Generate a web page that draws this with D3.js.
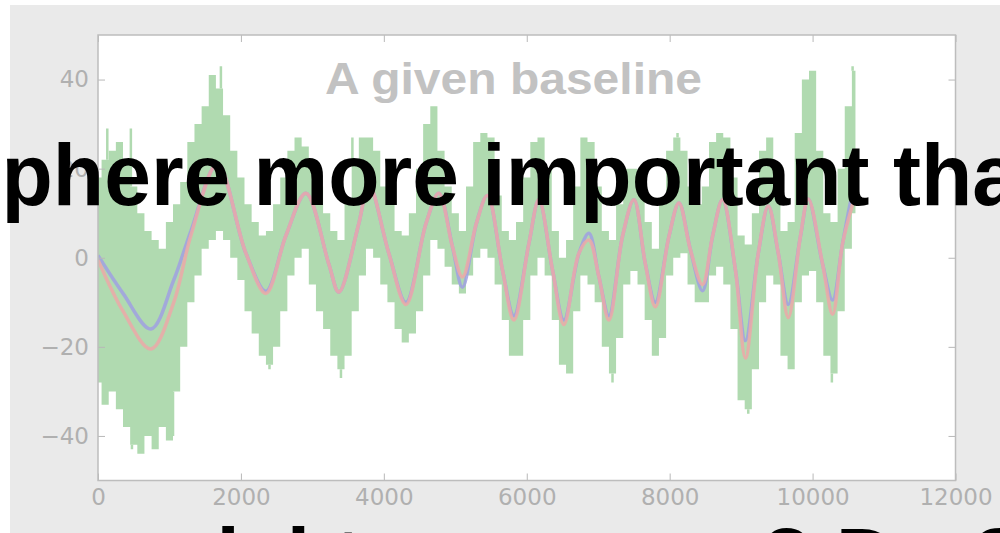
<!DOCTYPE html>
<html>
<head>
<meta charset="utf-8">
<script src="https://cdn.jsdelivr.net/npm/d3@7"></script>
<style>
  html, body { margin: 0; padding: 0; background: #fff; overflow: hidden; }
  svg { display: block; }
</style>
</head>
<body>
<script>
// ticks
const xTicks = [0, 2000, 4000, 6000, 8000, 10000, 12000];
const yTicks = [-40, -20, 0, 20, 40];

// raw (green) signal, envelope read every 100 steps from 0 to 10600
const rawStep = 100;
const rawHigh = [
  18, 22, 24, 26, 21, 16, 10, 6, 4, 2,
  8, 12, 17, 26, 30, 34, 41, 38, 32, 24,
  18, 12, 8, 5, 6, 12, 18, 24, 27, 25,
  20, 16, 10, 6, 4, 12, 22, 27, 27, 24,
  16, 12, 6, 5, 10, 20, 30, 34, 24, 16,
  10, 6, 16, 26, 28, 27, 14, 6, 4, 8,
  18, 26, 27, 20, 6, 0, 4, 16, 27, 26,
  16, 6, 4, 12, 20, 20, 18, 8, 2, 12,
  24, 27, 24, 16, 12, 16, 26, 28, 27, 18,
  5, 3, 10, 24, 27, 16, 6, 8, 28, 40,
  42, 24, 10, 8, 20, 34, 42
];
const rawLow = [
  -28, -33, -30, -34, -38, -42, -44, -40, -43, -38,
  -41, -30, -20, -10, -4, 2, 4, 6, 4, 0,
  -5, -12, -17, -22, -24, -20, -12, -4, 0, 2,
  -6, -12, -16, -22, -25, -22, -12, -4, 2, 0,
  -6, -10, -16, -19, -17, -12, -4, 4, 2, -2,
  -6, -8, -4, 0, 2, 0, -6, -14, -22, -22,
  -14, -4, 0, -4, -14, -24, -26, -12, -4, -6,
  -10, -20, -26, -18, -6, -3, -6, -14, -22, -18,
  -4, 0, 1, -6, -10, -10, -4, -2, -6, -16,
  -32, -34, -25, -10, -4, -6, -22, -25, -10, -4,
  -3, -10, -22, -26, -12, 2, 10
];
// isolated spikes of the raw signal: [x, tip value]
const rawSpikes = [
  [130, 29], [460, 29], [1720, 43], [2770, 27], [3560, 27], [4680, 34],
  [8110, 28], [8780, 27], [10000, 42], [10560, 43],
  [475, -43], [600, -44], [1050, -40], [2400, -25], [3400, -27],
  [7200, -28], [9100, -35], [10270, -28]
];

// smoothed curves
const smoothX = [0, 350, 741, 1060, 1300, 1670, 2070, 2350, 2630, 2910,
  3230, 3370, 3650, 3790, 4070, 4310, 4590, 4770, 4960, 5100,
  5300, 5450, 5660, 5820, 6030, 6170, 6360, 6520, 6730, 6870,
  7010, 7150, 7340, 7500, 7660, 7800, 7990, 8130, 8290, 8460,
  8600, 8740, 8920, 9060, 9240, 9380, 9520, 9660, 9830, 9940,
  10140, 10280, 10420, 10560, 10600];
const smoothRed = [-0.5, -12, -20.5, -10, 5, 21, 1, -8, 5, 14.5,
  -1.4, -7.7, 7.7, 16.5, 1, -10.5, 7.7, 14.5, 2.5, -4.3,
  8, 14, -2.7, -14, 3.2, 13, -2.7, -15, 1, 4,
  -4.3, -14, 4.8, 13, -1.4, -11, 4.8, 12.3, 1.8, -6,
  4.8, 13, -2.7, -22.5, 1, 11.6, 1, -13.4, 4.8, 13.2,
  -1.4, -12.7, 3.2, 12, 14];
const smoothBlue = [0.5, -8, -16, -5, 6, 21, 1, -7.5, 5, 14.5,
  -1.4, -7.7, 7.7, 16.5, 1, -10, 7.7, 14.5, 2.5, -6.6,
  8, 14, -2.7, -13, 3.2, 13, -2.7, -14, 1, 5.5,
  -4.3, -13, 4.8, 13, -1.4, -10, 4.8, 12.3, 1.8, -7.4,
  4.8, 13, -2.7, -18.6, 1, 11.6, 1, -10.5, 4.8, 13.2,
  -1.4, -9.5, 3.2, 14.5, 16];

const width = 1000,
  height = 533,
  plot = { left: 98, right: 955.5, top: 35, bottom: 480.5 };

const svg = d3.select("body")
  .append("svg")
  .attr("width", width)
  .attr("height", height);

svg.append("rect").attr("width", width).attr("height", height).attr("fill", "#fff");
svg.append("rect")
  .attr("x", 10).attr("y", 5)
  .attr("width", width - 10).attr("height", height - 5)
  .attr("fill", "#eaeaea");

const x = d3.scaleLinear().domain([0, 12000]).range([plot.left, plot.right]);
const y = d3.scaleLinear().domain([-50, 50]).range([plot.bottom, plot.top]);

svg.append("rect")
  .attr("x", plot.left).attr("y", plot.top)
  .attr("width", plot.right - plot.left)
  .attr("height", plot.bottom - plot.top)
  .attr("fill", "#fff");

svg.append("clipPath").attr("id", "clip")
  .append("rect")
  .attr("x", plot.left).attr("y", plot.top)
  .attr("width", plot.right - plot.left)
  .attr("height", plot.bottom - plot.top);

const g = svg.append("g").attr("clip-path", "url(#clip)");

const green = "#b0dab0";

// green band
const rawArea = d3.area()
  .x((d, i) => x(i * rawStep))
  .y0((d, i) => y(rawLow[i]))
  .y1(d => y(d))
  .curve(d3.curveStep);

g.append("path")
  .datum(rawHigh)
  .attr("d", rawArea)
  .attr("fill", green);

g.selectAll("line.spike")
  .data(rawSpikes)
  .join("line")
  .attr("class", "spike")
  .attr("x1", d => x(d[0]))
  .attr("x2", d => x(d[0]))
  .attr("y1", d => {
    const i = Math.round(d[0] / rawStep);
    return y(d[1] > 0 ? rawHigh[i] : rawLow[i]);
  })
  .attr("y2", d => y(d[1]))
  .attr("stroke", green)
  .attr("stroke-width", 2.5);

const smoothLine = vals => d3.line()
  .x((d, i) => x(smoothX[i]))
  .y(d => y(d))
  .curve(d3.curveCatmullRom)(vals);

g.append("path")
  .attr("d", smoothLine(smoothBlue))
  .attr("fill", "none")
  .attr("stroke", "#a0a0e2")
  .attr("stroke-opacity", 0.85)
  .attr("stroke-width", 3.5);

g.append("path")
  .attr("d", smoothLine(smoothRed))
  .attr("fill", "none")
  .attr("stroke", "#eca8a8")
  .attr("stroke-opacity", 0.85)
  .attr("stroke-width", 3.5);

// axes
const tickColor = "#b8b8b8",
  labelColor = "#b0b0b0";

function styleAxis(sel) {
  sel.select(".domain").remove();
  sel.selectAll("line").attr("stroke", tickColor);
  sel.selectAll("text")
    .attr("fill", labelColor)
    .style("font-family", "'DejaVu Sans', sans-serif")
    .style("font-size", "23px");
}

svg.append("g")
  .attr("transform", `translate(${plot.left},0)`)
  .call(d3.axisLeft(y).tickValues(yTicks).tickSizeInner(-7).tickSizeOuter(0).tickPadding(9))
  .call(styleAxis);

svg.append("g")
  .attr("transform", `translate(${plot.right},0)`)
  .call(d3.axisRight(y).tickValues(yTicks).tickSizeInner(-7).tickSizeOuter(0).tickFormat(""))
  .call(styleAxis);

svg.append("g")
  .attr("transform", `translate(0,${plot.bottom})`)
  .call(d3.axisBottom(x).tickValues(xTicks).tickSizeInner(-7).tickSizeOuter(0)
    .tickPadding(8).tickFormat(d3.format("d")))
  .call(styleAxis);

svg.append("g")
  .attr("transform", `translate(0,${plot.top})`)
  .call(d3.axisTop(x).tickValues(xTicks).tickSizeInner(-7).tickSizeOuter(0).tickFormat(""))
  .call(styleAxis);

svg.append("rect")
  .attr("x", plot.left).attr("y", plot.top)
  .attr("width", plot.right - plot.left)
  .attr("height", plot.bottom - plot.top)
  .attr("fill", "none")
  .attr("stroke", "#bdbdbd")
  .attr("stroke-width", 1.5);

// chart title
svg.append("text")
  .attr("x", 325).attr("y", 94)
  .attr("textLength", 377)
  .attr("lengthAdjust", "spacingAndGlyphs")
  .attr("fill", "#c2c2c2")
  .style("font-family", "'Liberation Sans', Arial, sans-serif")
  .style("font-weight", "bold")
  .style("font-size", "45px")
  .text("A given baseline");

// caption overlay
const caption = svg.append("g")
  .style("font-family", "'Liberation Sans', Arial, sans-serif")
  .style("font-weight", "bold")
  .style("font-size", "88px")
  .attr("fill", "#000");

caption.append("text")
  .attr("x", -245.8).attr("y", 205)
  .attr("textLength", 1316)
  .attr("lengthAdjust", "spacingAndGlyphs")
  .text("atmosphere more important than");

caption.append("text")
  .attr("x", -88.4).attr("y", 589)
  .attr("textLength", 1265)
  .attr("lengthAdjust", "spacingAndGlyphs")
  .text("the model to sources? Do SSTs");
</script>
</body>
</html>
